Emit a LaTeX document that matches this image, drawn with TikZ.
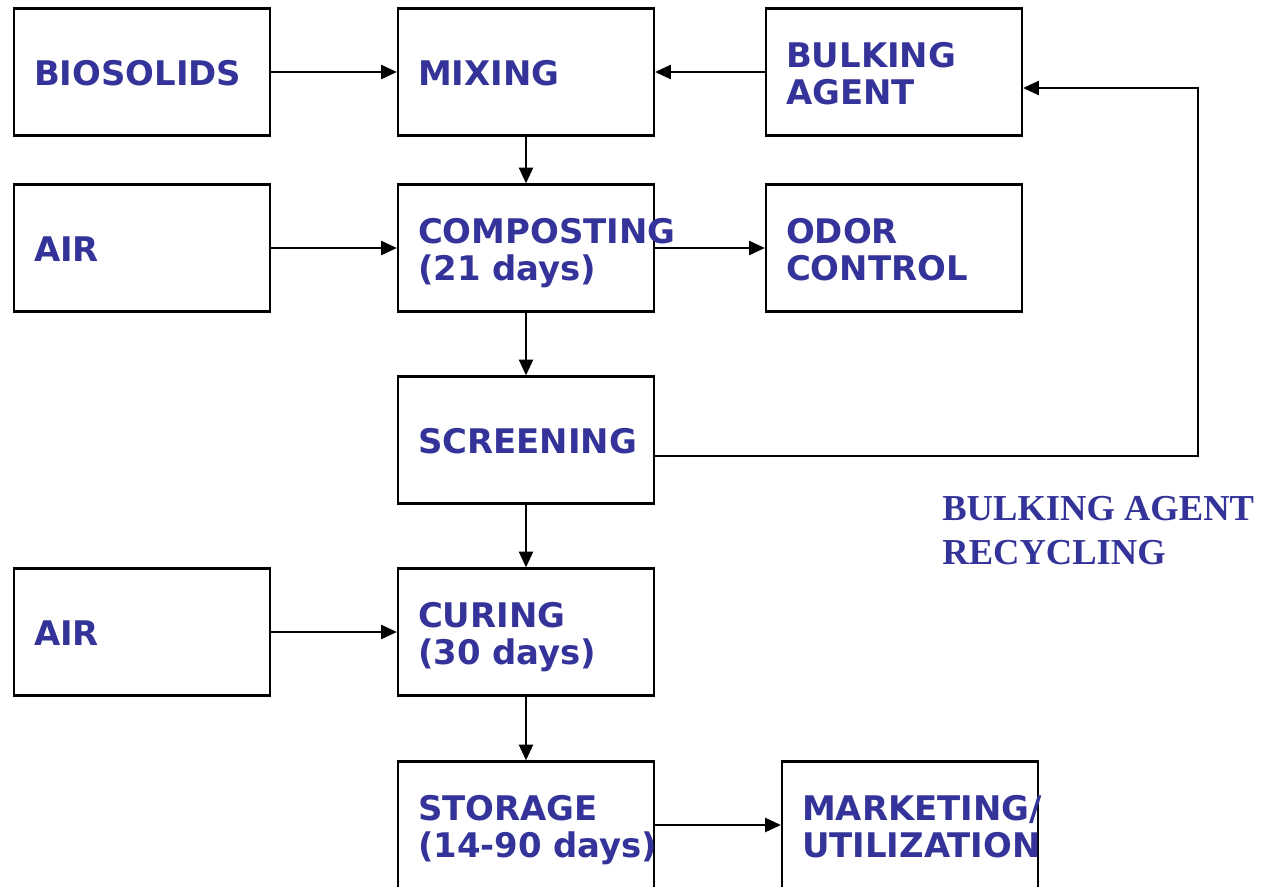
\documentclass[tikz,border=0pt]{standalone}
\usepackage{fontspec}
\setmainfont{DejaVu Sans}
\newfontfamily\recyclefont{Liberation Serif}
\usetikzlibrary{arrows.meta}
\definecolor{stagetext}{HTML}{333399}
\begin{document}
\begin{tikzpicture}[x=0.02cm, y=-0.02cm,
    stage/.style={draw, line width=1.3pt, minimum width=5.12cm, minimum height=2.54cm,
        inner xsep=0.4cm, text width=4.32cm, align=left, text=stagetext,
        text height=14pt, text depth=19.4pt,
        font=\fontsize{19.3}{21.2}\selectfont\bfseries},
    stageone/.style={stage, text height=16pt, text depth=0.7pt},
    flow/.style={-{Triangle[length=9pt, width=8pt]}, line width=1.3pt}
]
    \useasboundingbox (0,0) rectangle (1263,886);

    % Feed stages
    \node[stageone] (biosolids) at (142,72) {BIOSOLIDS};
    \node[stageone] (mixing) at (526,72) {MIXING};
    \node[stage] (bulking) at (894,72) {BULKING\\AGENT};
    \node[stageone] (airA) at (142,248) {AIR};
    \node[stage] (composting) at (526,248) {COMPOSTING\\(21 days)};
    \node[stage] (odor) at (894,248) {ODOR\\CONTROL};
    \node[stageone] (screening) at (526,440) {SCREENING};

    % Finishing stages
    \node[stageone] (airB) at (142,632) {AIR};
    \node[stage] (curing) at (526,632) {CURING\\(30 days)};
    \node[stage] (storage) at (526,825) {STORAGE\\\mbox{(14-90 days)}};
    \node[stage] (marketing) at (910,825) {MARKETING/\\UTILIZATION};

    % Arrows
    \draw[flow] (biosolids) -- (mixing);
    \draw[flow] (bulking) -- (mixing);
    \draw[flow] (mixing) -- (composting);
    \draw[flow] (airA) -- (composting);
    \draw[flow] (composting) -- (odor);
    \draw[flow] (composting) -- (screening);
    \draw[flow] (screening) -- (curing);
    \draw[flow] (airB) -- (curing);
    \draw[flow] (curing) -- (storage);
    \draw[flow] (storage) -- (marketing);

    % Recycle loop
    \coordinate (loopB) at (1198,456);
    \coordinate (loopT) at (1198,88);
    \draw[flow] (screening.east |- loopB) -- (loopB) -- (loopT) -- (bulking.east |- loopT);
    \node[anchor=north west, inner sep=0pt, align=left, text=stagetext,
        font=\recyclefont\fontsize{20.8}{25}\selectfont\bfseries] (recycle) at (942,496)
        {BULKING AGENT\\RECYCLING};
\end{tikzpicture}
\end{document}
